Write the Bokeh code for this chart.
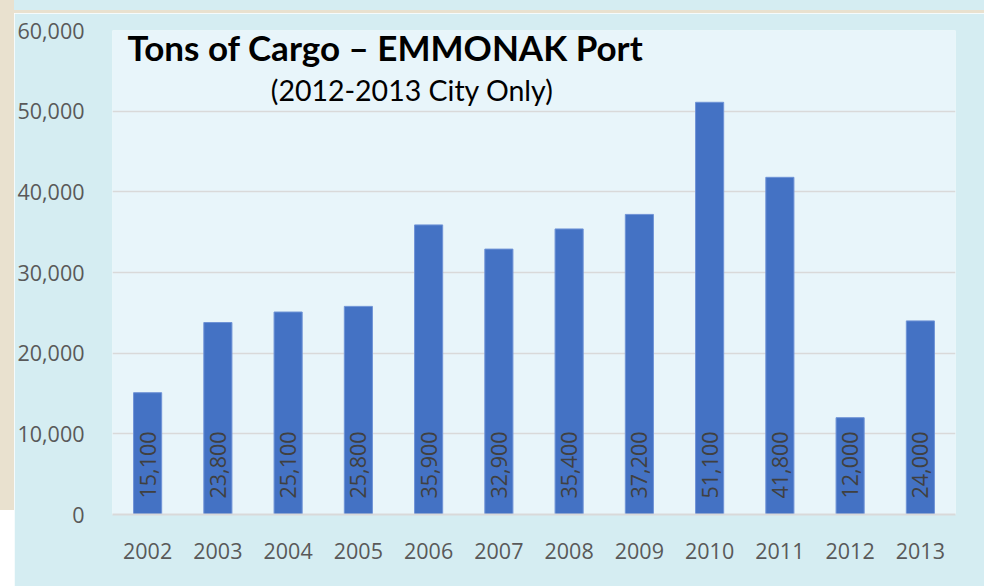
from bokeh.plotting import figure
from bokeh.models import (ColumnDataSource, FactorRange, Range1d, NumeralTickFormatter,
                          SingleIntervalTicker, Label, Div)
from bokeh.layouts import row, column
from bokeh.core.properties import value
from bokeh.embed import file_html
from bokeh.resources import INLINE
import math

years = ["2002", "2003", "2004", "2005", "2006", "2007", "2008", "2009", "2010", "2011", "2012", "2013"]
tons = [15100, 23800, 25100, 25800, 35900, 32900, 35400, 37200, 51100, 41800, 12000, 24000]
value_labels = [f"{v:,}" for v in tons]
title_text = "Tons of Cargo \u2013 EMMONAK Port"
subtitle_text = "(2012-2013 City Only)"

OUTER = "#D5EDF2"
INNER = "#E8F5FA"
BEIGE = "#E9E1CF"

src = ColumnDataSource(dict(year=years, tons=tons, lab=value_labels, zero=[0] * len(years)))

p = figure(x_range=FactorRange(*years), y_range=Range1d(0, 60000),
           width=970, height=573, output_backend="svg", toolbar_location=None,
           min_border_left=94, min_border_right=29, min_border_top=17, min_border_bottom=72)
p.border_fill_color = OUTER
p.background_fill_color = INNER
p.outline_line_color = None

p.vbar(x="year", top="tons", width=0.4, source=src, fill_color="#4472C4",
       line_color="#6F93D6", line_width=1)

p.text(x="year", y="zero", text="lab", source=src, angle=math.pi / 2,
       text_align="left", text_baseline="middle", y_offset=-16,
       text_font=value("Open Sans"), text_font_size="21.5px", text_color="#404040")

p.xgrid.grid_line_color = None
p.ygrid.grid_line_color = "#D9D9D9"
p.ygrid.grid_line_width = 1.5

p.yaxis.ticker = SingleIntervalTicker(interval=10000)
p.yaxis.formatter = NumeralTickFormatter(format="0,0")
p.yaxis.axis_line_color = None
p.yaxis.major_tick_line_color = None
p.yaxis.minor_tick_line_color = None
p.yaxis.major_label_standoff = 22

p.xaxis.axis_line_color = "#D9D9D9"
p.xaxis.axis_line_width = 2
p.xaxis.major_tick_line_color = None
p.xaxis.minor_tick_line_color = None
p.xaxis.major_label_standoff = 22

for ax in (p.xaxis, p.yaxis):
    ax.major_label_text_font = "Open Sans"
    ax.major_label_text_font_size = "21.5px"
    ax.major_label_text_color = "#595959"

p.add_layout(Label(x=0.212, y=58000, text=title_text, text_font="Lato",
                   text_font_style="bold", text_font_size="35px", text_color="#000000",
                   text_baseline="alphabetic"))
p.add_layout(Label(x=2.253, y=52650, text=subtitle_text, text_font="Lato",
                   text_font_size="28.5px", text_color="#000000",
                   text_baseline="alphabetic"))

left_strip = Div(text="", width=14, height=586, margin=0,
                 styles={"background": f"linear-gradient(to bottom, {BEIGE} 0px, {BEIGE} 510px, #FFFFFF 510px, #FFFFFF 586px)"})
top_strip = Div(text="", width=970, height=13, margin=0,
                styles={"background": f"linear-gradient(to bottom, {OUTER} 0px, {OUTER} 10px, {BEIGE} 10px, {BEIGE} 13px)"})

layout = row(left_strip, column(top_strip, p, spacing=0), spacing=0)

open("out.html", "w").write(file_html(layout, INLINE))
